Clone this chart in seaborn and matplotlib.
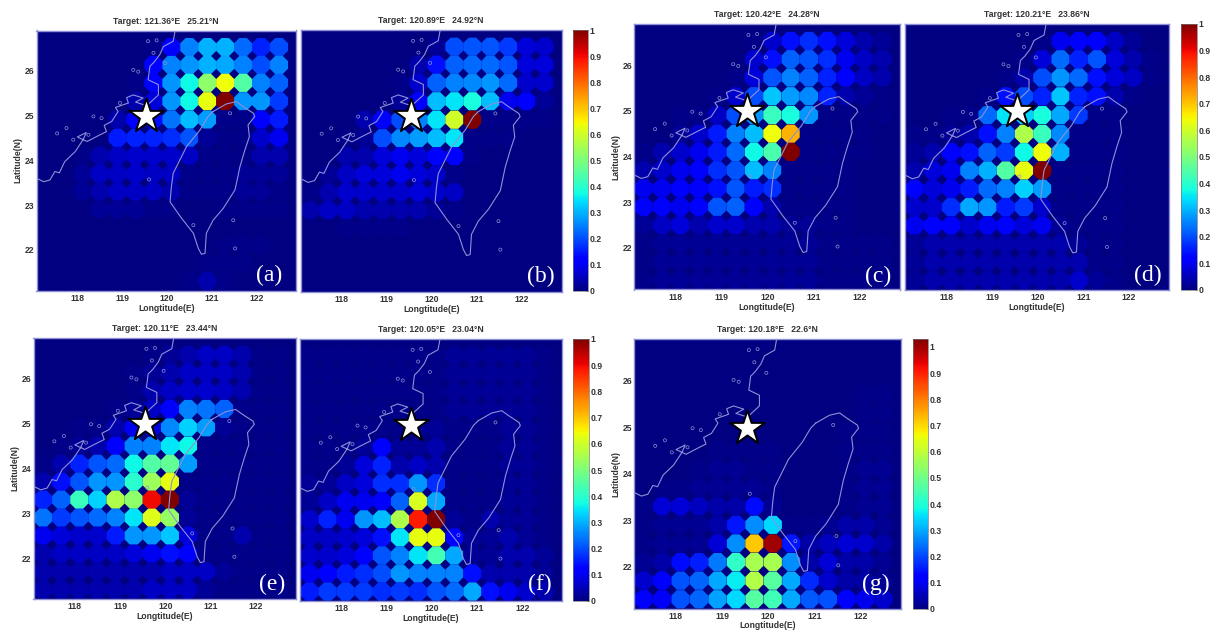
import matplotlib
matplotlib.use('Agg')
import matplotlib.pyplot as plt
import seaborn as sns
import pandas as pd
import numpy as np

# grid centres
lons = [117.3, 117.7, 118.1, 118.5, 118.9, 119.3, 119.7, 120.1, 120.5, 120.9, 121.3, 121.7, 122.1, 122.5]
lats = [26.53, 26.13, 25.73, 25.32, 24.91, 24.5, 24.1, 23.7, 23.3, 22.9, 22.5, 22.1, 21.7, 21.3]

# values in percent, one row per latitude, top row first
values_a = [
    [0, 0, 0, 0, 0, 0, 1, 11, 25, 30, 30, 23, 16, 20],
    [0, 0, 0, 0, 0, 0, 11, 25, 27, 30, 29, 25, 20, 25],
    [0, 0, 0, 0, 0, 1, 11, 27, 37, 52, 64, 45, 25, 22],
    [0, 0, 0, 0, 0, 4, 8, 27, 37, 63, 100, 27, 27, 18],
    [0, 0, 0, 0, 4, 12, 14, 24, 31, 28, 1, 1, 11, 15],
    [0, 0, 0, 0, 15, 16, 16, 17, 21, 2, 1, 1, 7, 10],
    [0, 0, 1, 4, 6, 7, 7, 7, 6, 1, 1, 1, 4, 4],
    [0, 0, 2, 6, 6, 7, 6, 6, 1, 1, 1, 2, 2, 2],
    [0, 0, 2, 4, 6, 6, 6, 4, 1, 1, 1, 2, 2, 1],
    [0, 0, 0, 2, 2, 2, 1, 1, 0, 0, 1, 1, 1, 1],
    [0, 0, 0, 0, 0, 0, 0, 0, 0, 0, 0, 0, 0, 0],
    [0, 0, 0, 0, 0, 0, 0, 0, 0, 0, 1, 1, 1, 0],
    [0, 0, 0, 0, 0, 0, 0, 0, 0, 1, 1, 1, 0, 0],
    [0, 0, 0, 0, 0, 0, 0, 0, 1, 4, 1, 0, 0, 0],
]
values_b = [
    [0, 0, 0, 0, 0, 0, 0, 2, 20, 21, 21, 18, 8, 7],
    [0, 0, 0, 0, 0, 0, 4, 14, 22, 23, 23, 21, 8, 8],
    [0, 0, 0, 0, 0, 1, 7, 22, 25, 26, 27, 23, 7, 7],
    [0, 0, 0, 0, 0, 2, 12, 31, 35, 38, 31, 10, 11, 2],
    [0, 0, 0, 4, 11, 20, 25, 35, 60, 100, 1, 1, 1, 1],
    [0, 0, 1, 2, 20, 26, 28, 31, 35, 1, 1, 1, 0, 0],
    [0, 0, 4, 4, 8, 10, 8, 12, 11, 1, 0, 0, 0, 0],
    [0, 2, 6, 8, 8, 10, 8, 7, 1, 0, 0, 0, 0, 0],
    [1, 4, 7, 7, 7, 7, 8, 7, 6, 0, 0, 0, 0, 0],
    [4, 6, 6, 4, 4, 4, 4, 2, 1, 0, 0, 0, 0, 0],
    [0, 0, 1, 1, 1, 1, 0, 0, 0, 0, 0, 0, 0, 0],
    [0, 0, 0, 0, 0, 0, 0, 0, 0, 0, 0, 0, 0, 0],
    [0, 0, 0, 0, 0, 0, 0, 0, 0, 0, 0, 0, 0, 0],
    [0, 0, 0, 0, 0, 0, 0, 0, 0, 0, 0, 0, 0, 0],
]
values_c = [
    [0, 0, 0, 0, 0, 0, 1, 7, 14, 17, 14, 8, 4, 2],
    [0, 0, 0, 0, 0, 0, 7, 14, 22, 21, 17, 10, 6, 4],
    [0, 0, 0, 0, 0, 1, 8, 21, 25, 22, 16, 11, 6, 4],
    [0, 0, 0, 0, 1, 7, 20, 32, 28, 26, 16, 4, 2, 1],
    [0, 0, 1, 1, 6, 20, 27, 42, 38, 27, 1, 1, 1, 1],
    [0, 0, 2, 7, 15, 25, 31, 64, 72, 1, 1, 1, 1, 0],
    [1, 4, 7, 10, 15, 23, 37, 44, 100, 1, 1, 1, 1, 0],
    [4, 7, 10, 12, 17, 21, 31, 25, 1, 1, 1, 1, 0, 0],
    [10, 10, 11, 12, 14, 21, 15, 17, 1, 1, 1, 1, 0, 0],
    [11, 11, 10, 11, 21, 22, 11, 4, 1, 1, 1, 1, 0, 0],
    [2, 6, 8, 4, 7, 7, 4, 4, 2, 2, 1, 1, 0, 0],
    [1, 2, 2, 2, 2, 2, 2, 2, 2, 2, 1, 1, 1, 1],
    [1, 2, 2, 2, 2, 2, 2, 2, 2, 2, 1, 1, 1, 1],
    [1, 2, 2, 2, 2, 2, 2, 2, 2, 2, 1, 1, 1, 1],
]
values_d = [
    [0, 0, 0, 0, 0, 0, 0, 1, 10, 12, 11, 6, 2, 0],
    [0, 0, 0, 0, 0, 0, 1, 8, 23, 16, 21, 8, 4, 1],
    [0, 0, 0, 0, 0, 1, 4, 20, 27, 23, 14, 8, 6, 1],
    [0, 0, 0, 0, 1, 14, 20, 16, 32, 16, 14, 4, 1, 0],
    [0, 0, 1, 1, 23, 35, 33, 38, 29, 18, 1, 1, 0, 0],
    [1, 1, 2, 4, 14, 25, 56, 42, 26, 1, 1, 1, 0, 0],
    [2, 4, 12, 14, 22, 18, 37, 64, 30, 1, 1, 1, 0, 0],
    [4, 8, 10, 25, 30, 45, 63, 100, 1, 1, 1, 1, 0, 0],
    [12, 8, 10, 15, 23, 25, 33, 28, 1, 1, 1, 1, 0, 0],
    [7, 7, 17, 29, 27, 15, 18, 7, 1, 1, 1, 1, 0, 0],
    [10, 11, 11, 7, 10, 11, 8, 10, 2, 1, 1, 1, 0, 0],
    [2, 4, 4, 4, 4, 4, 4, 4, 4, 2, 1, 1, 0, 0],
    [2, 4, 4, 4, 4, 4, 4, 4, 4, 4, 1, 1, 0, 0],
    [2, 4, 4, 4, 4, 4, 4, 4, 4, 7, 2, 1, 0, 0],
]
values_e = [
    [0, 0, 0, 0, 0, 0, 1, 2, 4, 6, 6, 4, 1, 1],
    [0, 0, 0, 0, 0, 1, 2, 4, 6, 6, 6, 4, 1, 1],
    [0, 0, 0, 0, 0, 1, 4, 6, 7, 7, 6, 4, 1, 1],
    [0, 0, 0, 0, 1, 2, 6, 12, 25, 24, 22, 1, 1, 1],
    [0, 0, 1, 1, 4, 10, 8, 26, 33, 28, 2, 1, 1, 1],
    [0, 1, 2, 4, 11, 25, 25, 35, 37, 1, 1, 1, 1, 1],
    [1, 4, 16, 21, 23, 37, 45, 47, 28, 1, 1, 1, 1, 1],
    [4, 14, 21, 27, 27, 40, 54, 63, 1, 1, 1, 1, 1, 1],
    [16, 22, 42, 33, 56, 52, 90, 100, 2, 1, 1, 1, 1, 1],
    [24, 18, 21, 23, 25, 35, 62, 53, 2, 1, 1, 1, 1, 1],
    [10, 8, 7, 7, 15, 27, 27, 32, 8, 1, 1, 4, 1, 1],
    [4, 6, 6, 6, 6, 8, 10, 14, 12, 1, 1, 1, 1, 1],
    [4, 4, 4, 4, 4, 4, 4, 6, 6, 6, 2, 1, 1, 1],
    [4, 4, 4, 4, 4, 4, 6, 6, 6, 2, 1, 1, 1, 1],
]
values_f = [
    [1, 1, 1, 1, 1, 1, 1, 1, 2, 2, 2, 2, 2, 1],
    [1, 1, 1, 1, 1, 1, 1, 1, 2, 2, 2, 2, 2, 1],
    [1, 1, 1, 1, 1, 1, 1, 1, 2, 2, 2, 2, 2, 1],
    [1, 1, 1, 1, 1, 1, 1, 1, 2, 2, 2, 2, 2, 1],
    [1, 1, 1, 1, 1, 1, 2, 2, 1, 1, 1, 2, 2, 1],
    [1, 1, 1, 2, 11, 2, 2, 4, 1, 1, 1, 2, 2, 1],
    [1, 1, 2, 8, 16, 4, 6, 4, 1, 1, 1, 2, 2, 1],
    [2, 2, 6, 8, 17, 17, 27, 17, 1, 1, 1, 2, 2, 1],
    [2, 6, 10, 10, 11, 22, 61, 29, 1, 1, 1, 2, 2, 1],
    [7, 16, 10, 27, 31, 56, 88, 100, 2, 1, 4, 2, 2, 1],
    [6, 6, 7, 8, 14, 35, 63, 63, 12, 2, 2, 4, 2, 1],
    [7, 7, 8, 12, 21, 25, 35, 43, 29, 2, 2, 4, 4, 2],
    [10, 12, 15, 17, 20, 27, 25, 25, 25, 14, 4, 4, 4, 2],
    [15, 18, 18, 18, 17, 18, 17, 21, 23, 29, 14, 10, 7, 4],
]
values_g = [
    [0, 0, 0, 0, 0, 0, 0, 0, 0, 0, 0, 0, 0, 0],
    [0, 0, 0, 0, 0, 0, 0, 0, 0, 0, 0, 0, 0, 0],
    [0, 0, 0, 0, 0, 0, 0, 0, 0, 0, 0, 0, 1, 1],
    [0, 0, 0, 0, 0, 0, 0, 0, 0, 0, 0, 0, 1, 1],
    [0, 0, 0, 0, 0, 0, 0, 0, 0, 0, 0, 1, 1, 1],
    [0, 0, 0, 0, 1, 1, 1, 1, 0, 0, 0, 1, 1, 1],
    [0, 0, 0, 1, 2, 2, 1, 1, 0, 0, 0, 1, 2, 2],
    [0, 1, 1, 2, 2, 2, 2, 1, 0, 0, 0, 1, 2, 2],
    [1, 8, 8, 6, 4, 4, 14, 2, 0, 0, 0, 1, 2, 2],
    [1, 2, 2, 2, 4, 15, 27, 35, 1, 1, 2, 4, 4, 2],
    [1, 2, 2, 2, 8, 27, 72, 100, 15, 4, 6, 8, 7, 4],
    [2, 4, 14, 16, 25, 42, 57, 57, 27, 4, 8, 4, 4, 2],
    [7, 12, 21, 23, 30, 37, 58, 47, 30, 17, 7, 4, 4, 2],
    [12, 11, 21, 23, 29, 35, 47, 44, 30, 22, 21, 12, 10, 7],
]

targets = ['121.36°E   25.21°N', '120.89°E   24.92°N', '120.42°E   24.28°N', '120.21°E   23.86°N',
           '120.11°E   23.44°N', '120.05°E   23.04°N', '120.18°E   22.6°N']
panel_names = ['(a)', '(b)', '(c)', '(d)', '(e)', '(f)', '(g)']
x_ticks = [118, 119, 120, 121, 122]
y_ticks = [22, 23, 24, 25, 26]
cbar_ticks = [0, 0.1, 0.2, 0.3, 0.4, 0.5, 0.6, 0.7, 0.8, 0.9, 1]
star_lon = 119.54
star_lat = 24.99

taiwan_lon = [121.03, 121.33, 121.55, 121.70, 121.93, 121.96, 121.81, 121.84, 121.74, 121.63, 121.52, 121.26, 121.03,
              120.88, 120.85, 120.77, 120.70, 120.59, 120.33, 120.07, 120.10, 120.14, 120.44, 120.74, 120.92, 121.03]
taiwan_lat = [25.09, 25.26, 25.31, 25.20, 25.05, 24.98, 24.79, 24.53, 24.23, 23.86, 23.34, 22.93, 22.66,
              22.37, 21.92, 21.90, 22.03, 22.37, 22.70, 23.07, 23.41, 23.71, 24.31, 24.68, 24.98, 25.09]
coast_lon = [117.09, 117.25, 117.39, 117.50, 117.60, 117.72, 117.95, 118.13, 118.20, 118.00, 118.22, 118.43, 118.65,
             118.60, 118.77, 118.91, 118.85, 119.14, 119.10, 119.25, 119.47, 119.30, 119.55, 119.81, 119.81, 119.58,
             119.62, 119.72, 119.84, 119.92, 120.14, 120.18]
coast_lat = [23.60, 23.52, 23.56, 23.75, 23.72, 23.97, 24.19, 24.46, 24.62, 24.52, 24.42, 24.53, 24.64,
             24.78, 24.87, 25.09, 25.18, 25.28, 25.40, 25.46, 25.39, 25.30, 25.22, 25.46, 25.69, 25.80,
             26.10, 26.20, 26.36, 26.54, 26.66, 26.88]
island_lon = [119.6, 119.77, 119.58, 119.25, 119.36, 119.70, 119.96, 118.95, 118.54, 118.36, 117.76, 117.55, 117.91,
              118.25, 121.52, 121.48, 120.59, 121.41]
island_lat = [23.57, 26.68, 26.66, 26.02, 25.98, 26.40, 26.17, 25.28, 24.94, 24.98, 24.72, 24.60, 24.46,
              24.57, 22.03, 22.66, 22.55, 25.05]

W, H = 1211, 630
LINE = '#9090d8'
TEXT = '#333333'

sns.set_theme(style='white')
plt.rcParams['font.family'] = ['Liberation Sans', 'DejaVu Sans']
plt.rcParams['font.weight'] = 'bold'
plt.rcParams['axes.labelweight'] = 'bold'
plt.rcParams['axes.titleweight'] = 'bold'

fig = plt.figure(figsize=(W / 100, H / 100), dpi=100, facecolor='white')
jet = plt.get_cmap('jet')


def box(x0, y0, x1, y1):
    # pixel box, y measured from the top
    return [x0 / W, 1 - y1 / H, (x1 - x0) / W, (y1 - y0) / H]


def panel(values, rect, target, name, name_xy, ylabel, vmax=1.0, xpad=0.5):
    ax = fig.add_axes(box(*rect))
    ax.set_facecolor(jet(0))
    lon_grid, lat_grid = np.meshgrid(lons, lats)
    df = pd.DataFrame({'lon': lon_grid.ravel(), 'lat': lat_grid.ravel(),
                       'val': np.array(values).ravel() / 100})
    sns.scatterplot(data=df, x='lon', y='lat', hue='val', palette=jet, hue_norm=(0, vmax),
                    marker='8', s=200, linewidth=0, legend=False, ax=ax, zorder=2)
    ax.plot(coast_lon, coast_lat, color=LINE, lw=0.8, zorder=3)
    ax.plot(taiwan_lon, taiwan_lat, color=LINE, lw=0.8, zorder=3)
    ax.scatter(island_lon, island_lat, s=5, facecolors='none', edgecolors=LINE, linewidths=0.5, zorder=3)
    ax.scatter([star_lon], [star_lat], marker='*', s=680, c='white', edgecolors='black', linewidths=1.4, zorder=4)
    ax.set_xlim(117.09, 122.88)
    ax.set_ylim(21.09, 26.9)
    ax.set_xticks(x_ticks)
    ax.set_yticks(y_ticks)
    ax.tick_params(axis='x', length=0, labelsize=6.2, labelcolor=TEXT, pad=2.5)
    ax.tick_params(axis='y', length=0, labelsize=6.2, labelcolor=TEXT, pad=1.5)
    ax.set_xlabel('Longtitude(E)', fontsize=6.2, color=TEXT, labelpad=xpad)
    if ylabel:
        ax.set_ylabel('Latitude(N)', fontsize=6.2, color=TEXT, labelpad=1.5)
    else:
        ax.set_ylabel('')
        ax.set_yticklabels([])
    ax.set_title('Target: ' + target, fontsize=6.2, color=TEXT, pad=5)
    for s in ax.spines.values():
        s.set_color(LINE)
        s.set_linewidth(1.0)
        s.set_visible(True)
    fig.text(name_xy[0] / W, 1 - name_xy[1] / H, name, color='white', fontsize=17, fontweight='normal',
             family='Liberation Serif', ha='center', va='center', zorder=10)
    return ax


def colorbar(rect, vmax=1.0):
    cax = fig.add_axes(box(*rect))
    sm = plt.cm.ScalarMappable(cmap=jet, norm=plt.Normalize(0, vmax))
    cb = fig.colorbar(sm, cax=cax)
    cb.set_ticks(cbar_ticks)
    cb.set_ticklabels([str(t) for t in cbar_ticks])
    cb.ax.tick_params(length=1.5, width=0.5, labelsize=6.2, labelcolor=TEXT, pad=1, direction='in', color='#333333')
    cb.outline.set_edgecolor('#777777')
    cb.outline.set_linewidth(0.5)


panel(values_a, (36.5, 30.5, 296, 290.5), targets[0], panel_names[0], (269, 275), True)
panel(values_b, (301, 30, 561.5, 292), targets[1], panel_names[1], (541, 276), False)
colorbar((572.5, 30, 588, 291))

panel(values_c, (634, 24, 900, 289.5), targets[2], panel_names[2], (878, 276), True)
panel(values_d, (905, 24, 1169, 290), targets[3], panel_names[3], (1148, 275), False)
colorbar((1181, 24, 1197, 290))

panel(values_e, (33.5, 338, 296, 599), targets[4], panel_names[4], (272, 584), True)
panel(values_f, (300, 339, 562, 601), targets[5], panel_names[5], (540, 584), False)
colorbar((573, 339, 589, 601))

panel(values_g, (634, 339, 901, 609), targets[6], panel_names[6], (876, 584), True, vmax=1.03, xpad=-0.5)
colorbar((913, 339, 928, 609), vmax=1.03)

fig.savefig('out.png', dpi=100)
